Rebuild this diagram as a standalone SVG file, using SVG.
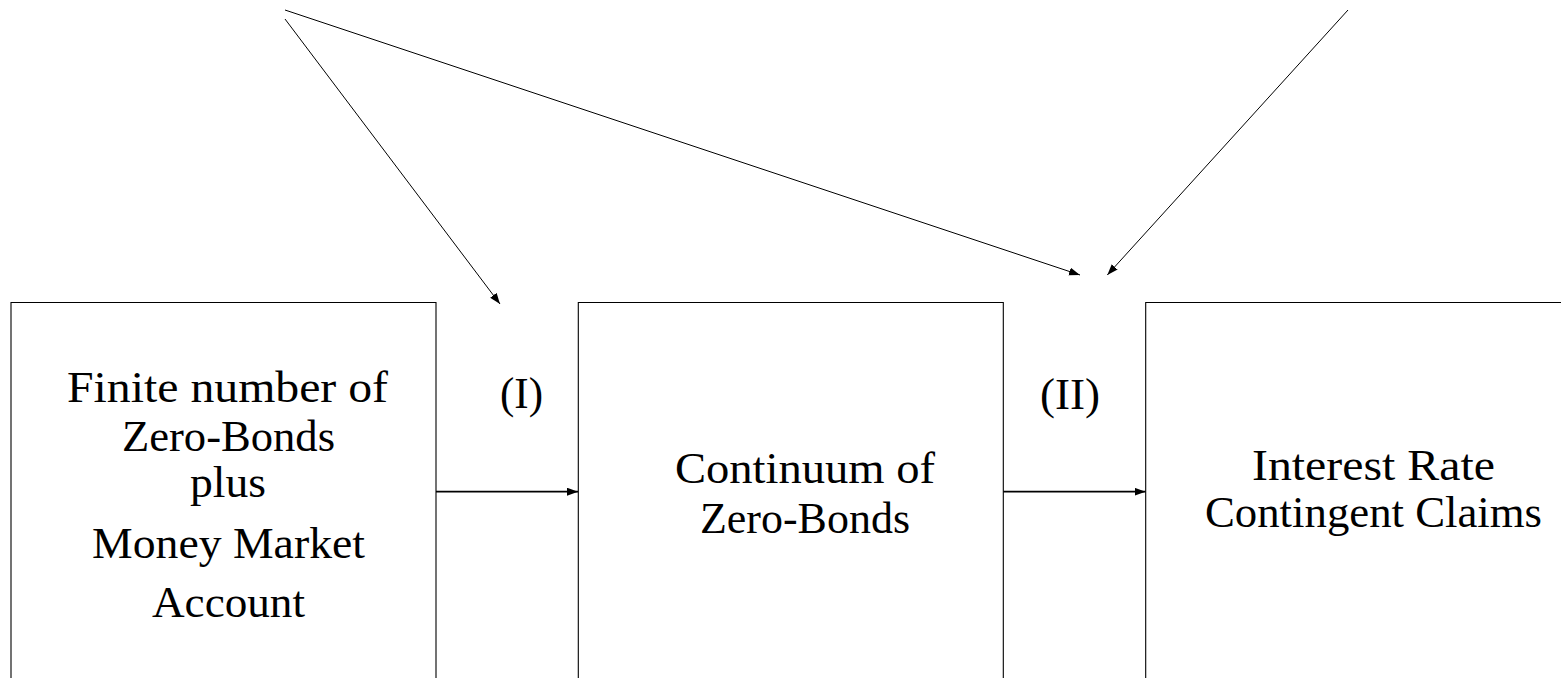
<svg xmlns="http://www.w3.org/2000/svg" width="1561" height="678" viewBox="0 0 1561 678">
<style>
.box{fill:none;stroke:#000;stroke-width:1.1}
.t{font-family:"Liberation Serif","DejaVu Serif",serif;font-size:45px;fill:#000;text-anchor:middle}
.c{fill:none;stroke:#000;stroke-width:1}
.h{fill:none;stroke:#000;stroke-width:1.8}
</style>
<defs>
<marker id="ah" markerUnits="userSpaceOnUse" markerWidth="12" markerHeight="10" refX="11" refY="4" orient="auto">
<path d="M0,0 L11,4 L0,8 Z" fill="#000"/>
</marker>
</defs>
<rect width="1561" height="678" fill="#fff"/>
<g id="node-finite">
<path class="box" d="M11,690 V302.5 H436 V690"/>
<text class="t" x="227.5" y="401.7" textLength="321" lengthAdjust="spacingAndGlyphs">Finite number of</text>
<text class="t" x="228.5" y="450.7" textLength="213" lengthAdjust="spacingAndGlyphs">Zero-Bonds</text>
<text class="t" x="228" y="497" textLength="76" lengthAdjust="spacingAndGlyphs">plus</text>
<text class="t" x="228.5" y="558" textLength="273" lengthAdjust="spacingAndGlyphs">Money Market</text>
<text class="t" x="228.5" y="617" textLength="153" lengthAdjust="spacingAndGlyphs">Account</text>
</g>
<g id="node-continuum">
<path class="box" d="M578.3,690 V302.5 H1003.3 V690"/>
<text class="t" x="805" y="483" textLength="260" lengthAdjust="spacingAndGlyphs">Continuum of</text>
<text class="t" x="805" y="533" textLength="210" lengthAdjust="spacingAndGlyphs">Zero-Bonds</text>
</g>
<g id="node-claims">
<path class="box" d="M1145.7,690 V302.5 H1570"/>
<text class="t" x="1373.5" y="480" textLength="243" lengthAdjust="spacingAndGlyphs">Interest Rate</text>
<text class="t" x="1373.5" y="527" textLength="337" lengthAdjust="spacingAndGlyphs">Contingent Claims</text>
</g>
<g id="labels">
<text class="t" x="521.5" y="408" textLength="43" lengthAdjust="spacingAndGlyphs">(I)</text>
<text class="t" x="1070" y="409" textLength="60" lengthAdjust="spacingAndGlyphs">(II)</text>
</g>
<g id="connectors">
<line class="h" x1="436" y1="491.7" x2="578" y2="491.7" marker-end="url(#ah)"/>
<line class="h" x1="1003.3" y1="491.7" x2="1145.5" y2="491.7" marker-end="url(#ah)"/>
<line class="c" x1="285" y1="19" x2="500" y2="304" marker-end="url(#ah)"/>
<line class="c" x1="285" y1="10" x2="1080" y2="275" marker-end="url(#ah)"/>
<line class="c" x1="1348" y1="10" x2="1107.3" y2="275" marker-end="url(#ah)"/>
</g>
</svg>
